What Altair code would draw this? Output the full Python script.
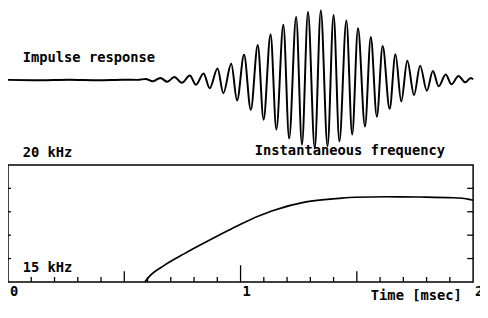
import altair as alt
import pandas as pd

# ---- data ----
# Impulse response: extrema (time in msec, amplitude in arbitrary units)
wave_t = [0.000, 0.135, 0.262, 0.389, 0.495, 0.558,
          0.592, 0.622, 0.655, 0.685, 0.715, 0.748, 0.782, 0.808, 0.841, 0.867,
          0.901, 0.926, 0.960, 0.985, 1.015, 1.044, 1.074, 1.099, 1.129, 1.154,
          1.184, 1.209, 1.239, 1.264, 1.290, 1.319, 1.345, 1.374, 1.400, 1.425,
          1.455, 1.480, 1.505, 1.535, 1.560, 1.586, 1.611, 1.641, 1.666, 1.691,
          1.717, 1.746, 1.772, 1.801, 1.827, 1.852, 1.882, 1.907, 1.937, 1.966,
          1.990, 2.000]
wave_amp = [0.0, -0.3, 0.2, -0.3, 0.2, 0.0,
            1.0, -1.5, 2.0, -2.0, 3.0, -3.0, 4.5, -5.0, 6.5, -8.5,
            11.5, -13.5, 16.5, -21.0, 25.5, -30.5, 35.5, -40.5, 46.5, -50.5,
            56.0, -59.5, 64.0, -66.0, 69.0, -69.5, 70.5, -67.5, 66.0, -62.5,
            60.5, -55.5, 52.5, -47.5, 43.5, -37.5, 34.5, -29.5, 26.0, -22.0,
            19.5, -15.5, 14.5, -11.0, 9.0, -6.5, 5.5, -4.5, 4.0, -2.5,
            2.0, 0.5]

# Instantaneous frequency (time in msec, kHz)
freq_t = [0.588, 0.609, 0.672, 0.757, 0.812, 0.884, 0.951, 0.998, 1.137,
          1.281, 1.421, 1.493, 1.632, 1.772, 1.915, 1.983, 2.000]
freq_khz = [15.00, 15.25, 15.71, 16.20, 16.50, 16.88, 17.22, 17.46, 18.04,
            18.42, 18.57, 18.62, 18.64, 18.63, 18.60, 18.53, 18.49]

minor_ticks = [0.1, 0.2, 0.3, 0.4, 0.6, 0.7, 0.8, 0.9,
               1.1, 1.2, 1.3, 1.4, 1.6, 1.7, 1.8, 1.9]
half_ticks = [0.5, 1.5]
unit_ticks = [1.0]
khz_ticks = [16, 17, 18, 19]
x_label_pos = [0, 1, 2]
x_label_txt = ["0", "1", "2"]

# ---- chart ----
W, H = 473, 276
FONT = "DejaVu Sans Mono"
FS = 14
FW = "bold"

xs = alt.Scale(domain=[0, 2])
amp_scale = alt.Scale(domain=[-205.5, 70.5])
f_scale = alt.Scale(domain=[15, 26.6])


def X(field):
    return alt.X(field, type="quantitative", scale=xs, axis=None)


def YF(field):
    return alt.Y(field, type="quantitative", scale=f_scale, axis=None)


wave = alt.Chart(pd.DataFrame({"t": wave_t, "a": wave_amp})).mark_line(
    interpolate="monotone", color="black", strokeWidth=2.0
).encode(x=X("t"), y=alt.Y("a:Q", scale=amp_scale, axis=None))

wave_label = alt.Chart(pd.DataFrame({"t": [0.063], "a": [18.5]})).mark_text(
    text="Impulse response", align="left", baseline="alphabetic",
    font=FONT, fontSize=FS, fontWeight=FW, color="black"
).encode(x=X("t"), y=alt.Y("a:Q", scale=amp_scale, axis=None))

box = alt.Chart(pd.DataFrame({"t0": [0], "t1": [2], "f0": [15], "f1": [20]})).mark_rect(
    fillOpacity=0, stroke="black", strokeWidth=1.5
).encode(x=X("t0"), x2="t1", y=YF("f0"), y2="f1")

curve = alt.Chart(pd.DataFrame({"t": freq_t, "f": freq_khz})).mark_line(
    interpolate="monotone", color="black", strokeWidth=1.7
).encode(x=X("t"), y=YF("f"))


def bottom_ticks(vals, length):
    return alt.Chart(pd.DataFrame({"t": vals})).mark_rule(
        color="black", strokeWidth=1.3
    ).encode(x=X("t"), y=alt.value(H), y2=alt.value(H - length))


kt = pd.DataFrame({"f": khz_ticks})
left_ticks = alt.Chart(kt).mark_rule(color="black", strokeWidth=1.3).encode(
    y=YF("f"), x=alt.value(0), x2=alt.value(3))
right_ticks = alt.Chart(kt).mark_rule(color="black", strokeWidth=1.3).encode(
    y=YF("f"), x=alt.value(W - 6), x2=alt.value(W))


def label(txt, t, f):
    return alt.Chart(pd.DataFrame({"t": [t], "f": [f]})).mark_text(
        text=txt, align="left", baseline="alphabetic",
        font=FONT, fontSize=FS, fontWeight=FW, color="black"
    ).encode(x=X("t"), y=YF("f"))


xl = alt.Chart(pd.DataFrame({"t": x_label_pos, "f": [14.41] * 3,
                             "txt": x_label_txt})).mark_text(
    align="left", baseline="alphabetic", font=FONT, fontSize=FS,
    fontWeight=FW, color="black", dx=2
).encode(x=X("t"), y=YF("f"), text="txt:N")

chart = alt.layer(
    wave, wave_label,
    box, curve,
    bottom_ticks(minor_ticks, 5), bottom_ticks(half_ticks, 11),
    bottom_ticks(unit_ticks, 17),
    left_ticks, right_ticks,
    label("20 kHz", 0.063, 20.34),
    label("Instantaneous frequency", 1.061, 20.42),
    label("15 kHz", 0.063, 15.42),
    label("Time [msec]", 1.560, 14.24),
    xl,
).resolve_scale(y="independent").properties(
    width=W, height=H,
    autosize=alt.AutoSizeParams(type="none"),
    padding={"left": 0, "top": 0, "right": 7, "bottom": 30},
).configure_view(stroke=None)

chart.save("out.html", embed_options={"renderer": "svg", "actions": False})
